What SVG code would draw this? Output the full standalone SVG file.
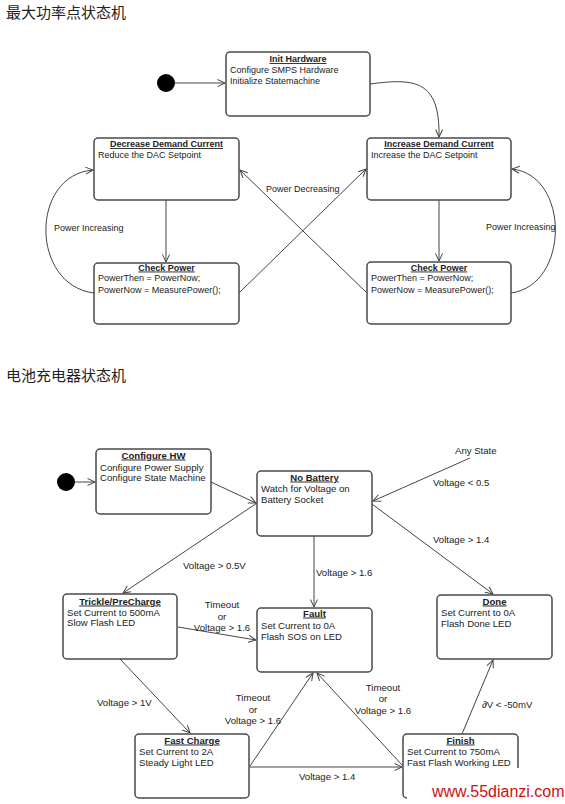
<svg xmlns="http://www.w3.org/2000/svg" width="565" height="804" viewBox="0 0 565 804">
<style>
.bg{fill:#fff}
.box{fill:#fff;stroke:#4a4a4a;stroke-width:1.5}
.t{font-family:"Liberation Sans",Arial,sans-serif;font-size:9px;fill:#222}
.b{font-family:"Liberation Sans",Arial,sans-serif;font-size:9.6px;fill:#222}
.h{font-weight:bold;text-decoration:underline;text-anchor:middle}
.c{text-anchor:middle}
.cjk{font-family:"Noto Sans CJK SC","Noto Sans",sans-serif;font-size:15px;fill:#222}
.ln{fill:none;stroke:#444;stroke-width:1}
.wm{font-family:"Liberation Sans",Arial,sans-serif;font-size:16px;fill:#cc1111}
</style>
<defs>
<marker id="ar" markerUnits="userSpaceOnUse" markerWidth="10" markerHeight="10" refX="8" refY="4" orient="auto">
<path d="M0.5,0.5 L8,4 L0.5,7.5" fill="none" stroke="#444" stroke-width="1"/>
</marker>
</defs>
<rect class="bg" x="0" y="0" width="565" height="804"/>
<text class="cjk" x="6" y="18">最大功率点状态机</text>
<text class="cjk" x="6" y="381">电池充电器状态机</text>

<g id="connectors">
<line class="ln" x1="175" y1="83" x2="225" y2="83" marker-end="url(#ar)"/>
<path class="ln" d="M370,84 C415,78 440,80 439,137" marker-end="url(#ar)"/>
<line class="ln" x1="166" y1="200" x2="166" y2="262" marker-end="url(#ar)"/>
<line class="ln" x1="439" y1="200" x2="439" y2="261" marker-end="url(#ar)"/>
<path class="ln" d="M94,293 C30,285 30,175 93,170" marker-end="url(#ar)"/>
<path class="ln" d="M511,293 C570,285 570,175 512,169" marker-end="url(#ar)"/>
<line class="ln" x1="239" y1="293" x2="366" y2="169" marker-end="url(#ar)"/>
<line class="ln" x1="367" y1="293" x2="240" y2="170" marker-end="url(#ar)"/>

<line class="ln" x1="75" y1="482" x2="95" y2="482" marker-end="url(#ar)"/>
<line class="ln" x1="211" y1="482" x2="256" y2="503" marker-end="url(#ar)"/>
<line class="ln" x1="470" y1="458" x2="373" y2="501" marker-end="url(#ar)"/>
<line class="ln" x1="372" y1="504" x2="493" y2="594" marker-end="url(#ar)"/>
<line class="ln" x1="314" y1="536" x2="314" y2="607" marker-end="url(#ar)"/>
<line class="ln" x1="257" y1="503" x2="123" y2="593" marker-end="url(#ar)"/>
<line class="ln" x1="178" y1="627" x2="256" y2="640" marker-end="url(#ar)"/>
<line class="ln" x1="120" y1="659" x2="190" y2="733" marker-end="url(#ar)"/>
<line class="ln" x1="249" y1="767" x2="402" y2="767" marker-end="url(#ar)"/>
<line class="ln" x1="250" y1="766" x2="313" y2="673" marker-end="url(#ar)"/>
<line class="ln" x1="403" y1="766" x2="317" y2="673" marker-end="url(#ar)"/>
<line class="ln" x1="462" y1="734" x2="493" y2="660" marker-end="url(#ar)"/>
</g>

<g id="labels">
<text class="t" x="54" y="231">Power Increasing</text>
<text class="t" x="486" y="230">Power Increasing</text>
<text class="t" x="266" y="192">Power Decreasing</text>
<text class="b" x="455" y="453.5">Any State</text>
<text class="b" x="433" y="485.5">Voltage &lt; 0.5</text>
<text class="b" x="433" y="542.5">Voltage &gt; 1.4</text>
<text class="b" x="316" y="576">Voltage &gt; 1.6</text>
<text class="b" x="183" y="568.5">Voltage &gt; 0.5V</text>
<text class="b c" x="222" y="607.5">Timeout</text>
<text class="b c" x="222" y="619.5">or</text>
<text class="b c" x="222" y="630.5">Voltage &gt; 1.6</text>
<text class="b" x="97" y="705.5">Voltage &gt; 1V</text>
<text class="b c" x="253" y="700.5">Timeout</text>
<text class="b c" x="253" y="712.5">or</text>
<text class="b c" x="253" y="723.5">Voltage &gt; 1.6</text>
<text class="b c" x="383" y="690.5">Timeout</text>
<text class="b c" x="383" y="701.5">or</text>
<text class="b c" x="383" y="713.5">Voltage &gt; 1.6</text>
<text class="b" x="299" y="779.5">Voltage &gt; 1.4</text>
<text class="b" x="482" y="707.5">∂V &lt; -50mV</text>
</g>

<g id="start1"><circle cx="166" cy="83" r="9" fill="#000"/></g>
<g id="init-hardware">
<rect class="box" x="226" y="52" width="144" height="64" rx="4"/>
<text class="t h" x="298" y="62">Init Hardware</text>
<text class="t" x="230" y="72.5">Configure SMPS Hardware</text>
<text class="t" x="230" y="83.5">Initialize Statemachine</text>
</g>
<g id="decrease-demand">
<rect class="box" x="94" y="138" width="145" height="62" rx="4"/>
<text class="t h" x="166.5" y="147">Decrease Demand Current</text>
<text class="t" x="98" y="158">Reduce the DAC Setpoint</text>
</g>
<g id="increase-demand">
<rect class="box" x="367" y="138" width="144" height="62" rx="4"/>
<text class="t h" x="439" y="147">Increase Demand Current</text>
<text class="t" x="371" y="158">Increase the DAC Setpoint</text>
</g>
<g id="check-power-left">
<rect class="box" x="94" y="263" width="145" height="61" rx="4"/>
<text class="t h" x="166.5" y="270.5">Check Power</text>
<text class="t" x="98" y="281">PowerThen = PowerNow;</text>
<text class="t" x="98" y="292.5">PowerNow = MeasurePower();</text>
</g>
<g id="check-power-right">
<rect class="box" x="367" y="262" width="144" height="62" rx="4"/>
<text class="t h" x="439" y="270.5">Check Power</text>
<text class="t" x="371" y="281">PowerThen = PowerNow;</text>
<text class="t" x="371" y="292.5">PowerNow = MeasurePower();</text>
</g>

<g id="start2"><circle cx="66" cy="482" r="9" fill="#000"/></g>
<g id="configure-hw">
<rect class="box" x="96" y="449" width="115" height="65" rx="4"/>
<text class="b h" x="153.5" y="458.5">Configure HW</text>
<text class="b" x="100" y="470.5">Configure Power Supply</text>
<text class="b" x="100" y="481">Configure State Machine</text>
</g>
<g id="no-battery">
<rect class="box" x="257" y="471" width="115" height="65" rx="4"/>
<text class="b h" x="314.5" y="480.5">No Battery</text>
<text class="b" x="261" y="491.5">Watch for Voltage on</text>
<text class="b" x="261" y="502.5">Battery Socket</text>
</g>
<g id="trickle">
<rect class="box" x="63" y="594" width="114" height="65" rx="4"/>
<text class="b h" x="120" y="604.5">Trickle/PreCharge</text>
<text class="b" x="67" y="615.5">Set Current to 500mA</text>
<text class="b" x="67" y="626">Slow Flash LED</text>
</g>
<g id="fault">
<rect class="box" x="257" y="608" width="115" height="64" rx="4"/>
<text class="b h" x="314.5" y="616.5">Fault</text>
<text class="b" x="261" y="628.5">Set Current to 0A</text>
<text class="b" x="261" y="639.5">Flash SOS on LED</text>
</g>
<g id="done">
<rect class="box" x="437" y="595" width="115" height="64" rx="4"/>
<text class="b h" x="494.5" y="604.5">Done</text>
<text class="b" x="441" y="615.5">Set Current to 0A</text>
<text class="b" x="441" y="626.5">Flash Done LED</text>
</g>
<g id="fast-charge">
<rect class="box" x="135" y="734" width="114" height="64" rx="4"/>
<text class="b h" x="192" y="743.5">Fast Charge</text>
<text class="b" x="139" y="754.5">Set Current to 2A</text>
<text class="b" x="139" y="765.5">Steady Light LED</text>
</g>
<g id="finish">
<rect class="box" x="403" y="734" width="115" height="64" rx="4"/>
<text class="b h" x="460.5" y="743.5">Finish</text>
<text class="b" x="407" y="754.5">Set Current to 750mA</text>
<text class="b" x="407" y="765.5">Fast Flash Working LED</text>
</g>

<g id="watermark">
<rect x="407" y="768" width="158" height="36" fill="#fff"/>
<text class="wm" x="432" y="797">www.55dianzi.com</text>
</g>
</svg>
